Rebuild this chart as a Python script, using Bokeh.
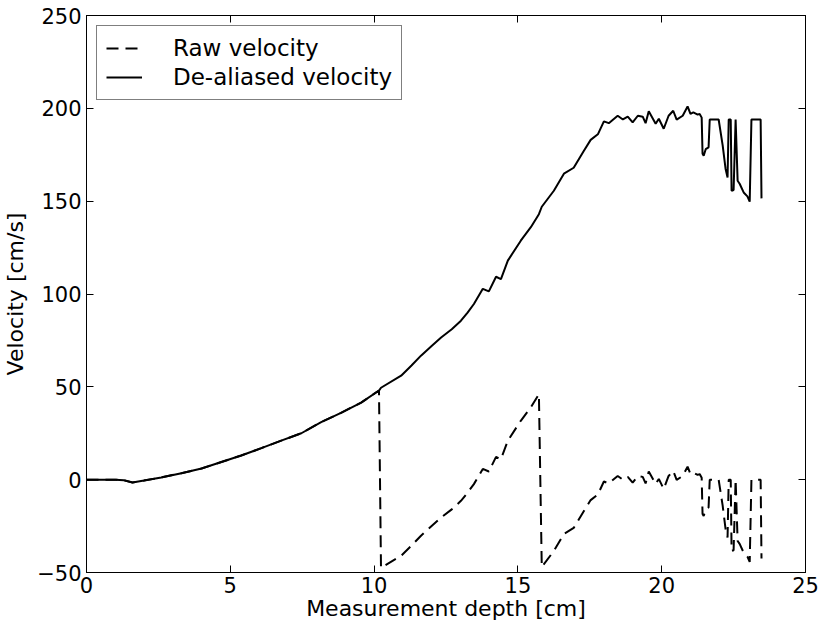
from bokeh.plotting import figure
from bokeh.models import (LinearAxis, FixedTicker, Legend, LegendItem, Range1d,
                          CustomLabelingPolicy)
from bokeh.embed import file_html
from bokeh.resources import INLINE

depth = [0, 0.5, 1.0, 1.3, 1.6, 2.0, 2.6, 3.3, 4.0, 4.69, 5.38, 6.08, 6.77, 7.47,
         8.16, 8.85, 9.55, 10.17, 10.24, 10.94, 11.3, 11.63, 12.0, 12.33, 12.7,
         13.02, 13.25, 13.47, 13.78, 13.99, 14.24, 14.41, 14.65, 15.1, 15.45, 15.73,
         15.83, 16.25, 16.6, 16.94, 17.29, 17.53, 17.78, 17.99, 18.16, 18.47, 18.65,
         18.82, 18.99, 19.17, 19.34, 19.44, 19.55, 19.79, 19.9, 20.07, 20.24, 20.4,
         20.52, 20.73, 20.9, 21.0, 21.1, 21.25, 21.32, 21.39, 21.42, 21.46, 21.53,
         21.63, 21.67, 21.98, 22.12, 22.22, 22.29, 22.33, 22.4, 22.43, 22.5, 22.57,
         22.64, 22.71, 22.85, 22.98, 23.06, 23.12, 23.44, 23.47]

dealiased = [0, 0, 0, -0.3, -1.5, -0.5, 1.2, 3.5, 6, 9.5, 13, 17, 21, 25, 31, 36,
             41.5, 48, 49.5, 56, 61.5, 66.8, 72, 76.6, 81,
             85.6, 90, 94.6, 102.8, 101.4, 109.3, 108, 118, 128.7, 136, 143,
             147, 155.6, 164.8, 168, 177, 183, 186, 193, 192, 196, 194,
             195.5, 192.4, 196, 195.5, 192, 198.4, 191.7, 194.4, 189, 196, 198.7,
             193.9, 196, 201, 197, 197.8, 196.6, 197, 195, 175.5, 174.5, 178,
             179, 194, 194, 180, 167.5, 162.8, 194, 194, 155.6, 156, 194,
             161, 159.4, 154.7, 152.6, 149.7, 194, 194, 151.5]

raw = [0, 0, 0, -0.3, -1.5, -0.5, 1.2, 3.5, 6, 9.5, 13, 17, 21, 25, 31, 36,
       41.5, 48, -47.5, -41, -35.5, -30.2, -25, -20.4, -16,
       -11.4, -7, -2.4, 5.8, 4.4, 12.3, 11, 21, 31.7, 39, 46,
       -47, -38.4, -29.2, -26, -17, -11, -8, -1, -2, 2, 0,
       1.5, -1.6, 2, 1.5, -2, 4.4, -2.3, 0.4, -5, 2, 4.7,
       -0.1, 2, 7, 3, 3.8, 2.6, 3, 1, -18.5, -19.5, -16,
       -15, 0, 0, -14, -26.5, -31.2, 0, 0, -38.4, -38, 0,
       -33, -34.6, -39.3, -41.4, -44.3, 0, 0, -42.5]

x_ticks = [0, 5, 10, 15, 20, 25]
y_ticks = [-50, 0, 50, 100, 150, 200, 250]

FONT = "DejaVu Sans"
TICK_FS = "21px"
LABEL_FS = "22px"
LEGEND_FS = "23px"

p = figure(width=821, height=623, output_backend="svg", toolbar_location=None,
           x_range=Range1d(0, 25), y_range=Range1d(-50, 250),
           min_border_left=85, min_border_right=16, min_border_top=15,
           min_border_bottom=51,
           x_axis_label="Measurement depth [cm]", y_axis_label="Velocity [cm/s]")
p.grid.visible = False
p.outline_line_color = "black"
p.outline_line_width = 1
p.outline_line_alpha = 1
p.background_fill_color = "white"
p.border_fill_color = "white"

p.xaxis.ticker = FixedTicker(ticks=x_ticks)
p.yaxis.ticker = FixedTicker(ticks=y_ticks)
for ax in (p.xaxis[0], p.yaxis[0]):
    ax.major_tick_in = 7
    ax.major_tick_out = 0
    ax.minor_tick_line_color = None
    ax.axis_line_color = "black"
    ax.major_tick_line_color = "black"
    ax.major_label_text_font = FONT
    ax.major_label_text_font_size = TICK_FS
    ax.major_label_text_color = "black"
    ax.axis_label_text_font = FONT
    ax.axis_label_text_font_size = LABEL_FS
    ax.axis_label_text_font_style = "normal"
    ax.axis_label_text_color = "black"
p.xaxis.major_label_standoff = 4
p.xaxis.axis_label_standoff = 0
p.yaxis.major_label_standoff = 5
p.yaxis.axis_label_standoff = 6

top = LinearAxis(ticker=FixedTicker(ticks=x_ticks), major_tick_in=7, major_tick_out=0,
                 minor_tick_line_color=None, major_label_text_font_size="2px",
                 major_label_standoff=0, axis_line_color="black",
                 major_label_policy=CustomLabelingPolicy(code="return []"))
right = LinearAxis(ticker=FixedTicker(ticks=y_ticks), major_tick_in=7, major_tick_out=0,
                   minor_tick_line_color=None, major_label_text_font_size="2px",
                   major_label_standoff=0, axis_line_color="black",
                   major_label_policy=CustomLabelingPolicy(code="return []"))
p.add_layout(top, "above")
p.add_layout(right, "right")

r_raw = p.line(depth, raw, line_color="black", line_width=2, line_dash="12 7")
r_de = p.line(depth, dealiased, line_color="black", line_width=2)

legend = Legend(items=[LegendItem(label="Raw velocity", renderers=[r_raw]),
                       LegendItem(label="De-aliased velocity", renderers=[r_de])],
                location="top_left", margin=10, padding=9, spacing=3,
                glyph_width=36, glyph_height=22, label_height=22, label_standoff=31,
                label_text_font=FONT, label_text_font_size=LEGEND_FS,
                label_text_color="black",
                border_line_color="black", border_line_width=1,
                background_fill_color="white", background_fill_alpha=1)
p.add_layout(legend)

open("out.html", "w").write(file_html(p, INLINE))
